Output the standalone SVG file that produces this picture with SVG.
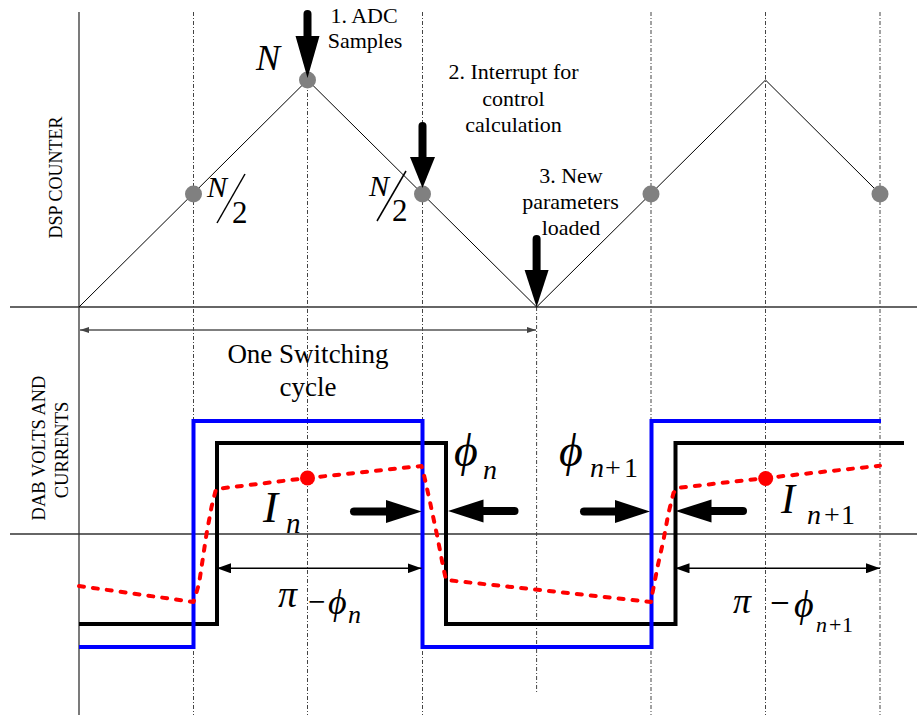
<svg xmlns="http://www.w3.org/2000/svg" width="917" height="715" viewBox="0 0 917 715">
<defs>
<style>
.t{font-family:"Liberation Serif","Times New Roman","DejaVu Serif",serif;fill:#000}
.m{font-family:"DejaVu Serif","Liberation Serif",serif;fill:#000}
.i{font-style:italic}
.axis{stroke:#333;stroke-width:1.3;fill:none}
.grid{stroke:#444;stroke-width:1;stroke-dasharray:4 2 1 2;fill:none}
.tri{stroke:#000;stroke-width:1;fill:none}
.dot{fill:#808080}
.shaft{stroke:#000;stroke-width:8;stroke-linecap:round;fill:none}
.head{fill:#000}
.blue{stroke:#0000ff;stroke-width:4;fill:none}
.black{stroke:#000;stroke-width:4;fill:none}
.red{stroke:#ff0000;stroke-width:4;fill:none;stroke-dasharray:5 9;stroke-linecap:round;stroke-linejoin:round}
.rdot{fill:#ff0000}
.dim{stroke:#000;stroke-width:1.5;fill:none}
.dimg{stroke:#555;stroke-width:1.3;fill:none}
</style>
<marker id="ah" viewBox="0 0 14 10" refX="14" refY="5" markerWidth="14" markerHeight="10" markerUnits="userSpaceOnUse" orient="auto-start-reverse">
<path d="M0,0 L14,5 L0,10 Z" fill="#000"/>
</marker>
<marker id="ahs" viewBox="0 0 9 6" refX="9" refY="3" markerWidth="9" markerHeight="6" markerUnits="userSpaceOnUse" orient="auto-start-reverse">
<path d="M0,0 L9,3 L0,6 Z" fill="#444"/>
</marker>
</defs>
<rect width="917" height="715" fill="#fff"/>

<g id="grid">
<line class="axis" x1="79" y1="12" x2="79" y2="715"/>
<line class="axis" x1="10" y1="307" x2="917" y2="307"/>
<line class="axis" x1="10" y1="534" x2="917" y2="534"/>
<line class="grid" x1="193.5" y1="12" x2="193.5" y2="715"/>
<line class="grid" x1="307.5" y1="12" x2="307.5" y2="715"/>
<line class="grid" x1="422.5" y1="12" x2="422.5" y2="715"/>
<line class="grid" x1="536.6" y1="307" x2="536.6" y2="693"/>
<line class="grid" x1="651" y1="12" x2="651" y2="715"/>
<line class="grid" x1="765.5" y1="12" x2="765.5" y2="715"/>
<line class="grid" x1="880" y1="12" x2="880" y2="715"/>
</g>

<g id="counter">
<polyline class="tri" points="79,307 307.5,80 536.6,307 765.5,80 880,194"/>
<circle class="dot" cx="193.5" cy="194" r="8.5"/>
<circle class="dot" cx="307.5" cy="80" r="8.5"/>
<circle class="dot" cx="422.5" cy="194" r="8.5"/>
<circle class="dot" cx="651" cy="194" r="8.5"/>
<circle class="dot" cx="880" cy="194" r="8.5"/>
</g>

<g id="labels-left">
<text class="t" font-size="18" text-anchor="middle" transform="translate(62,177.5) rotate(-90)">DSP COUNTER</text>
<text class="t" font-size="18.5" text-anchor="middle" transform="translate(45,448) rotate(-90)">DAB VOLTS AND</text>
<text class="t" font-size="18.5" text-anchor="middle" transform="translate(68,450) rotate(-90)">CURRENTS</text>
</g>

<g id="counter-labels">
<text class="t i" font-size="36" x="256" y="70">N</text>
<text class="t i" font-size="30" x="207" y="197">N</text>
<line x1="245" y1="174" x2="217" y2="223" stroke="#000" stroke-width="1.5"/>
<text class="t" font-size="31" x="232" y="223">2</text>
<text class="t i" font-size="30" x="369" y="196">N</text>
<line x1="406" y1="171" x2="377" y2="221" stroke="#000" stroke-width="1.5"/>
<text class="t" font-size="31" x="392" y="221">2</text>
</g>

<g id="step1">
<line class="shaft" x1="307.5" y1="14" x2="307.5" y2="40" stroke-width="9"/>
<path class="head" d="M295.5,36 L319.5,36 L307.5,78 Z"/>
<text class="t" font-size="22" text-anchor="middle" x="364" y="22.5">1. ADC</text>
<text class="t" font-size="22" text-anchor="middle" x="365" y="48">Samples</text>
</g>

<g id="step2">
<line class="shaft" x1="422.5" y1="126" x2="422.5" y2="160" stroke-width="9"/>
<path class="head" d="M410,157 L435,157 L422.5,188 Z"/>
<text class="t" font-size="22" text-anchor="middle" x="513.5" y="79">2. Interrupt for</text>
<text class="t" font-size="22" text-anchor="middle" x="513.5" y="106">control</text>
<text class="t" font-size="22" text-anchor="middle" x="513.5" y="132">calculation</text>
</g>

<g id="step3">
<line class="shaft" x1="536.6" y1="239" x2="536.6" y2="273" stroke-width="9"/>
<path class="head" d="M524.6,270 L548.6,270 L536.6,307 Z"/>
<text class="t" font-size="22" text-anchor="middle" x="571" y="183">3. New</text>
<text class="t" font-size="22" text-anchor="middle" x="570.5" y="209">parameters</text>
<text class="t" font-size="22" text-anchor="middle" x="571" y="235">loaded</text>
</g>

<g id="cycle">
<line class="dimg" x1="80" y1="330" x2="536" y2="330" marker-start="url(#ahs)" marker-end="url(#ahs)"/>
<text class="t" font-size="27" text-anchor="middle" x="308" y="363">One Switching</text>
<text class="t" font-size="27" text-anchor="middle" x="308" y="396">cycle</text>
</g>

<g id="waveforms">
<polyline class="black" points="79,624 217,624 217,443 446,443 446,624 675.5,624 675.5,443 904,443"/>
<polyline class="blue" points="79,647 193.5,647 193.5,421 422.5,421 422.5,647 651.5,647 651.5,421 881,421"/>
<polyline class="red" points="79,586 193.5,602 199,584 206.5,534 211.5,507 216,489 307.5,478 421.5,466 424,475 430,502 437,535 443,566 446,580 651,602 652.5,593 657.5,567 663.5,540 668.5,513 673.5,493 677,488 765.7,478 880,465.7"/>
<circle class="rdot" cx="307.5" cy="478" r="7.5"/>
<circle class="rdot" cx="765.7" cy="478.5" r="7.5"/>
</g>

<g id="current-labels">
<text class="t i" font-size="45" x="263" y="521.7">I</text>
<text class="t i" font-size="29" x="286" y="533">n</text>
<text class="t i" font-size="42" x="781" y="512.7">I</text>
<text class="t" font-size="28" y="524.3"><tspan class="i" x="807">n</tspan><tspan x="824">+</tspan><tspan x="841">1</tspan></text>
</g>

<g id="phase-arrows">
<line class="shaft" x1="354" y1="511.5" x2="388" y2="511.5"/>
<path class="head" d="M386,500 L421.7,511.5 L386,523 Z"/>
<line class="shaft" x1="514.5" y1="511" x2="481" y2="511"/>
<path class="head" d="M483.5,499.5 L448,511 L483.5,522.5 Z"/>
<line class="shaft" x1="584" y1="511.5" x2="617" y2="511.5"/>
<path class="head" d="M615,500 L650,511.5 L615,523 Z"/>
<line class="shaft" x1="743" y1="511" x2="710" y2="511"/>
<path class="head" d="M711.5,499.5 L675.5,511 L711.5,522.5 Z"/>
<text class="t i" font-size="46" x="454" y="466">ϕ</text>
<text class="t i" font-size="28" x="483" y="479">n</text>
<text class="t i" font-size="46" x="559" y="466">ϕ</text>
<text class="t" font-size="28" y="476.7"><tspan class="i" x="590">n</tspan><tspan x="605">+</tspan><tspan x="624">1</tspan></text>
</g>

<g id="dimensions">
<line class="dim" x1="217" y1="568.3" x2="421.5" y2="568.3" marker-start="url(#ah)" marker-end="url(#ah)"/>
<line class="dim" x1="675.5" y1="568.3" x2="880" y2="568.3" marker-start="url(#ah)" marker-end="url(#ah)"/>
<text class="t i" font-size="38" x="278" y="607">π</text>
<text class="m" font-size="23" x="307" y="608.5">−</text>
<text class="t i" font-size="36" x="328" y="614">ϕ</text>
<text class="t i" font-size="26" x="348" y="623">n</text>
<text class="t i" font-size="36" x="733" y="613">π</text>
<text class="m" font-size="26" x="769" y="610.5">−</text>
<text class="t i" font-size="38" x="794" y="617">ϕ</text>
<text class="t" font-size="22" y="631.5"><tspan class="i" x="816">n</tspan><tspan x="829">+</tspan><tspan x="842">1</tspan></text>
</g>
</svg>
